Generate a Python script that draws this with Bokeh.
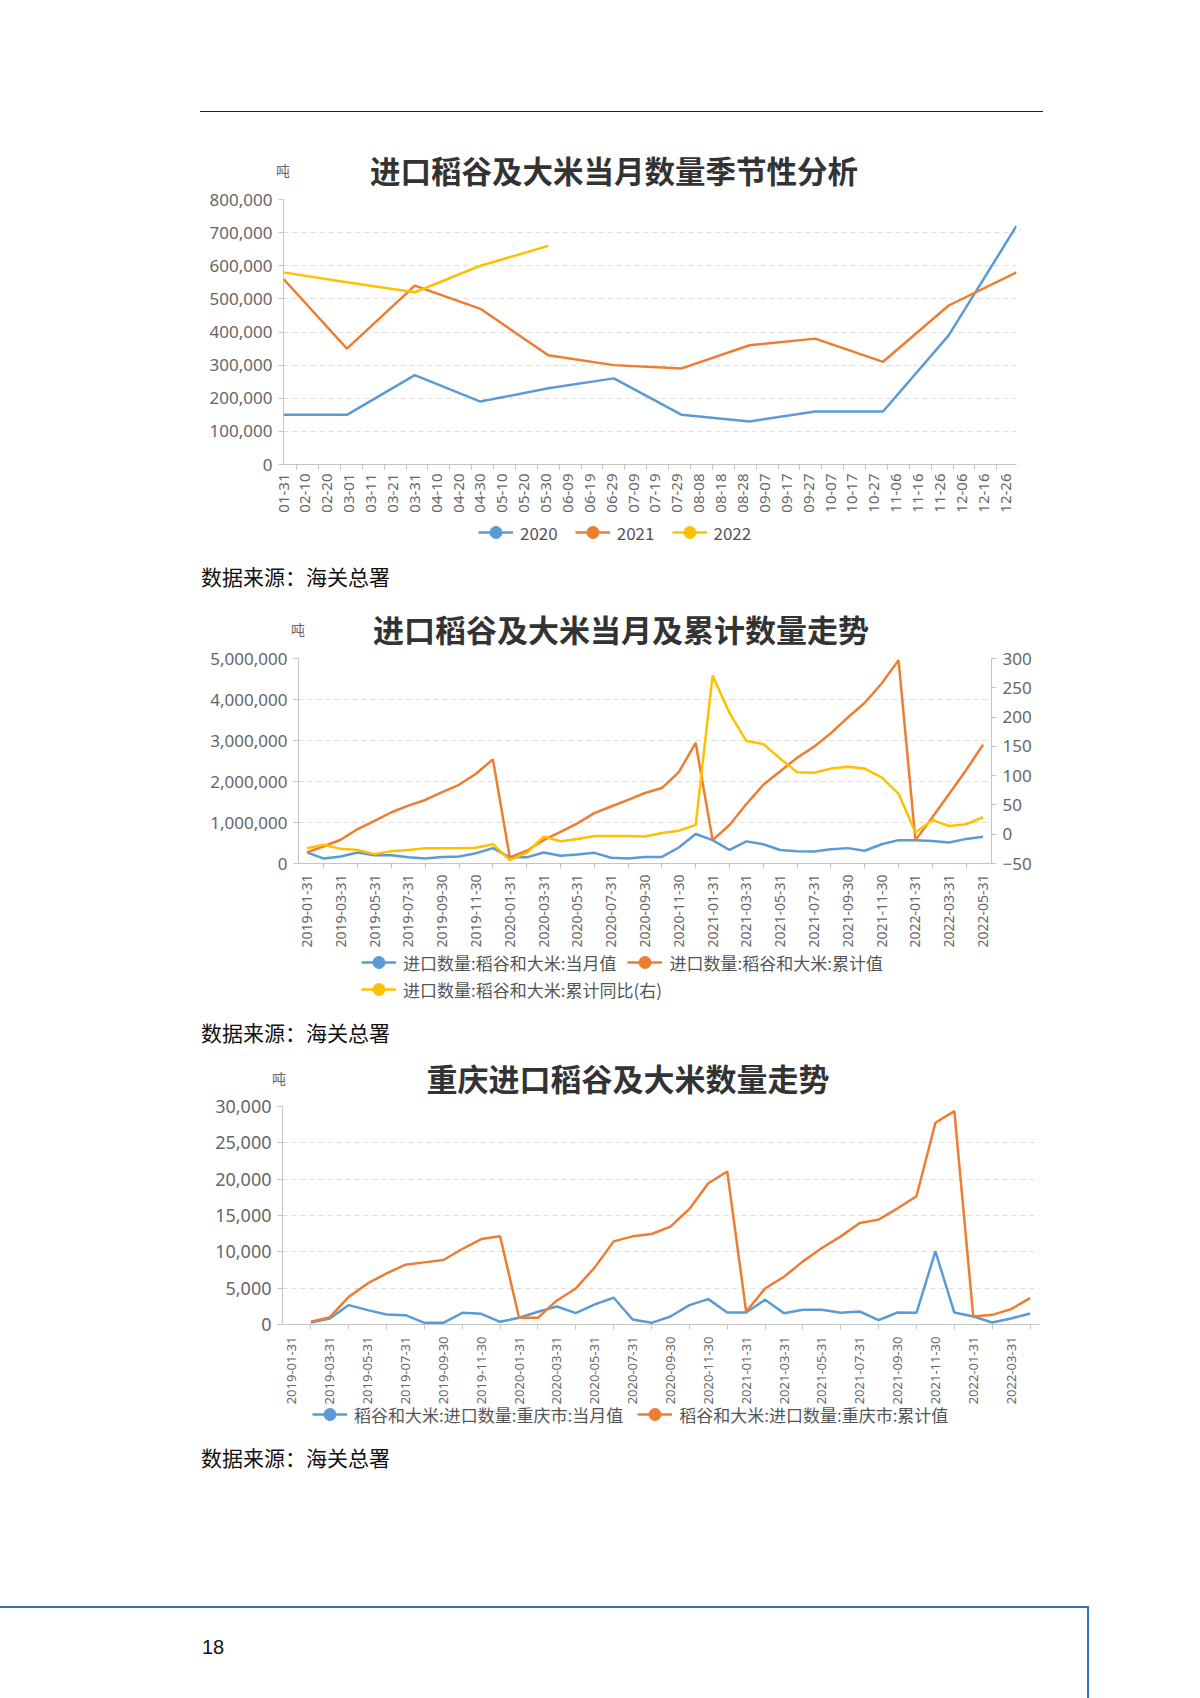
import math
import pandas as pd
from bokeh.plotting import figure
from bokeh.models import (Range1d, LinearAxis, FixedTicker, NumeralTickFormatter,
                          DatetimeTickFormatter, Legend, LegendItem, Div)
from bokeh.embed import file_html
from bokeh.resources import INLINE

NaN = float("nan")

# ---------------- data: chart 1 (seasonal) ----------------
season_dates = ["2020-01-31", "2020-02-29", "2020-03-31", "2020-04-30", "2020-05-31", "2020-06-30",
                "2020-07-31", "2020-08-31", "2020-09-30", "2020-10-31", "2020-11-30", "2020-12-31"]
season_2020 = [150000, 150000, 270000, 190000, 230000, 260000, 150000, 130000, 160000, 160000, 390000, 720000]
season_2021 = [560000, 350000, 540000, 470000, 330000, 300000, 290000, 360000, 380000, 310000, 480000, 580000]
season_2022 = [580000, 550000, 520000, 600000, 660000]
season_ticks = ["01-31", "02-10", "02-20", "03-01", "03-11", "03-21", "03-31", "04-10", "04-20", "04-30",
                "05-10", "05-20", "05-30", "06-09", "06-19", "06-29", "07-09", "07-19", "07-29", "08-08",
                "08-18", "08-28", "09-07", "09-17", "09-27", "10-07", "10-17", "10-27", "11-06", "11-16",
                "11-26", "12-06", "12-16", "12-26"]
season_years = ["2020", "2021", "2022"]

# ---------------- data: chart 2 (national monthly / cumulative) ----------------
months = ["2019-01-31", "2019-02-28", "2019-03-31", "2019-04-30", "2019-05-31", "2019-06-30",
          "2019-07-31", "2019-08-31", "2019-09-30", "2019-10-31", "2019-11-30", "2019-12-31",
          "2020-01-31", "2020-02-29", "2020-03-31", "2020-04-30", "2020-05-31", "2020-06-30",
          "2020-07-31", "2020-08-31", "2020-09-30", "2020-10-31", "2020-11-30", "2020-12-31",
          "2021-01-31", "2021-02-28", "2021-03-31", "2021-04-30", "2021-05-31", "2021-06-30",
          "2021-07-31", "2021-08-31", "2021-09-30", "2021-10-31", "2021-11-30", "2021-12-31",
          "2022-01-31", "2022-02-28", "2022-03-31", "2022-04-30", "2022-05-31"]
nat_month = [270000, 120000, 170000, 270000, 200000, 200000, 150000, 120000, 160000, 170000, 250000, 375000,
             150000, 150000, 270000, 190000, 220000, 260000, 140000, 120000, 160000, 160000, 390000, 720000,
             570000, 330000, 540000, 470000, 330000, 300000, 290000, 350000, 375000, 310000, 470000, 570000,
             570000, 550000, 510000, 600000, 650000]
nat_cum = [270000, 420000, 580000, 840000, 1040000, 1250000, 1410000, 1550000, 1740000, 1920000, 2190000, 2540000,
           150000, 310000, 570000, 770000, 980000, 1230000, 1390000, 1550000, 1720000, 1840000, 2230000, 2940000,
           570000, 940000, 1450000, 1920000, 2250000, 2580000, 2850000, 3180000, 3560000, 3920000, 4390000, 4960000,
           570000, 1130000, 1700000, 2280000, 2900000]
nat_yoy = [-24, -18, -25, -27, -34, -29, -27, -24, -24, -24, -23, -17,
           -44, -32, -4, -12, -8, -3, -3, -3, -4, 2, 6, 16,
           271, 207, 159, 154, 129, 106, 105, 112, 115, 112, 97, 69,
           3, 24, 14, 17, 29]
nat_labels = ["进口数量:稻谷和大米:当月值", "进口数量:稻谷和大米:累计值", "进口数量:稻谷和大米:累计同比(右)"]

# ---------------- data: chart 3 (Chongqing) ----------------
cq_months = months[:40]
cq_month = [NaN, 280, 830, 2670, 1980, 1380, 1290, 230, 230, 1610, 1470, 370,
            920, 1750, 2480, 1560, 2760, 3680, 690, 230, 1100, 2670, 3490, 1650,
            1650, 3400, 1560, 2020, 2020, 1610, 1790, 600, 1650, 1610, 10060, 1650,
            1100, 280, 830, 1520]
cq_cum = [NaN, 370, 1010, 3800, 5650, 7030, 8230, 8550, 8870, 10390, 11760, 12130,
          930, 930, 3310, 4960, 7860, 11440, 12130, 12450, 13460, 15900, 19440, 21050,
          1750, 4960, 6570, 8690, 10520, 12130, 13970, 14430, 15990, 17650, 27760, 29370,
          1100, 1330, 2110, 3630]
cq_labels = ["稻谷和大米:进口数量:重庆市:当月值", "稻谷和大米:进口数量:重庆市:累计值"]

titles = ["进口稻谷及大米当月数量季节性分析", "进口稻谷及大米当月及累计数量走势", "重庆进口稻谷及大米数量走势"]
unit = "吨"
source_text = "数据来源：海关总署"
page_no = "18"

# ---------------- style ----------------
BLUE = "#5b9bd5"
ORANGE = "#ed7d31"
YELLOW = "#ffc000"
CJK = "Noto Sans CJK SC"
NUM = "Noto Sans"
GRID = "#dedede"
AXIS = "#c4c4c4"
TXT = "#666666"


def base_fig(height, left, right, top, bottom, **kw):
    p = figure(width=1200, height=height, min_border_left=left, min_border_right=right,
               min_border_top=top, min_border_bottom=bottom, output_backend="svg",
               toolbar_location=None, tools="", background_fill_color="white",
               border_fill_color="white", outline_line_color=None, margin=(0, 0, 0, 0), **kw)
    p.xgrid.visible = False
    p.ygrid.grid_line_color = GRID
    p.ygrid.grid_line_dash = "5 4"
    p.ygrid.grid_line_width = 1
    return p


def style_y(ax, size="17px"):
    ax.axis_line_color = AXIS
    ax.major_tick_line_color = AXIS
    ax.major_tick_out = 5
    ax.major_tick_in = 0
    ax.minor_tick_line_color = None
    ax.major_label_text_color = TXT
    ax.major_label_text_font = NUM
    ax.major_label_text_font_size = size
    ax.major_label_standoff = 6


def style_x(ax, size="14px", standoff=4):
    ax.axis_line_color = AXIS
    ax.major_tick_out = 0
    ax.major_tick_in = 0
    ax.major_tick_line_color = None
    ax.minor_tick_out = 5
    ax.minor_tick_in = 0
    ax.minor_tick_line_color = AXIS
    ax.major_label_orientation = math.pi / 2
    ax.major_label_text_color = TXT
    ax.major_label_text_font = NUM
    ax.major_label_text_font_size = size
    ax.major_label_standoff = standoff


def legend_strip(height, overlap, rows):
    """A transparent figure with no axes whose frame is the whole strip; it only holds legends.
    It is pulled up by `overlap` px over the chart above it.
    rows: list of (labels, colors, glyph_left, box_bottom_from_strip_bottom, spacing)."""
    f = figure(width=1200, height=height, min_border=0, output_backend="svg", toolbar_location=None,
               tools="", x_range=Range1d(0, 1200), y_range=Range1d(0, height),
               x_axis_location=None, y_axis_location=None, outline_line_color=None,
               background_fill_color=None, border_fill_color=None, margin=(-overlap, 0, 0, 0))
    f.grid.visible = False
    for labels, colors, gx, gy, spacing in rows:
        items = []
        for lab, col in zip(labels, colors):
            # legend-only renderers: one point far outside the strip's visible range
            r1 = f.line([-1000, -999], [-1000, -1000], line_color=col, line_width=2.5)
            r2 = f.scatter([-1000], [-1000], size=12, fill_color=col, line_color=col)
            items.append(LegendItem(label=lab, renderers=[r1, r2]))
        f.add_layout(Legend(items=items, location=(gx, gy), orientation="horizontal", glyph_width=35,
                            glyph_height=30, label_height=30, label_standoff=7, spacing=spacing,
                            padding=0, margin=0, border_line_color=None, background_fill_alpha=0,
                            label_text_font=CJK, label_text_font_size="17px",
                            label_text_color="#555555"))
    return f


# ---------------- chart 1 ----------------
ms = lambda s: int(pd.Timestamp(s).value // 10**6)
tick_ms = [ms("2020-" + t) for t in season_ticks]
minor_ms = [v + 6 * 86400000 for v in tick_ms]
sx = pd.to_datetime(season_dates)

p1 = base_fig(327, 283, 184, 11, 51, x_axis_type="datetime",
              x_range=Range1d(pd.Timestamp("2020-01-31"), pd.Timestamp("2020-12-31")),
              y_range=Range1d(0, 800000))
c1 = [BLUE, ORANGE, YELLOW]
vals1 = [season_2020, season_2021, season_2022]
for vals, col in zip(vals1, c1):
    p1.line(sx[:len(vals)], vals, line_color=col, line_width=2.5)
p1.xaxis.ticker = FixedTicker(ticks=tick_ms, minor_ticks=minor_ms)
fmt = "%m-%d"
p1.xaxis.formatter = DatetimeTickFormatter(milliseconds=fmt, seconds=fmt, minsec=fmt, minutes=fmt,
                                           hourmin=fmt, hours=fmt, days=fmt, months=fmt, years=fmt)
p1.yaxis.ticker = FixedTicker(ticks=list(range(0, 800001, 100000)))
p1.yaxis.formatter = NumeralTickFormatter(format="0,0")
style_x(p1.xaxis[0], "15px", 4)
style_y(p1.yaxis[0], "17px")
leg1 = legend_strip(40, 0, [(season_years, c1, 478, 8, 17)])

# ---------------- chart 2 ----------------
n2 = len(months)
x2 = list(range(n2))
p2 = base_fig(310, 298, 209, 13, 92, x_range=Range1d(-0.5, n2 - 0.5), y_range=Range1d(0, 5000000))
p2.extra_y_ranges = {"right": Range1d(-50, 300)}
ra = LinearAxis(y_range_name="right")
p2.add_layout(ra, "right")
p2.line(x2, nat_month, line_color=BLUE, line_width=2.5)
p2.line(x2, nat_cum, line_color=ORANGE, line_width=2.5)
p2.line(x2, nat_yoy, line_color=YELLOW, line_width=2.5, y_range_name="right")
p2.xaxis.ticker = FixedTicker(ticks=x2[::2], minor_ticks=x2[1::2])
p2.xaxis.major_label_overrides = {i: months[i] for i in x2[::2]}
style_x(p2.xaxis[0], "14px", 6)
p2.yaxis[0].ticker = FixedTicker(ticks=list(range(0, 5000001, 1000000)))
p2.yaxis[0].formatter = NumeralTickFormatter(format="0,0")
style_y(p2.yaxis[0], "17px")
ra.ticker = FixedTicker(ticks=list(range(-50, 301, 50)))
style_y(ra, "17px")
leg2 = legend_strip(75, 20, [(nat_labels[:2], [BLUE, ORANGE], 361, 33, 11),
                             (nat_labels[2:], [YELLOW], 361, 6, 11)])

# ---------------- chart 3 ----------------
n3 = len(cq_months)
x3 = list(range(n3))
p3 = base_fig(315, 282, 161, 11, 86, x_range=Range1d(-0.5, n3 - 0.5), y_range=Range1d(0, 30000))
p3.line(x3, cq_month, line_color=BLUE, line_width=2.5)
p3.line(x3, cq_cum, line_color=ORANGE, line_width=2.5)
p3.xaxis.ticker = FixedTicker(ticks=x3[::2], minor_ticks=x3[1::2])
p3.xaxis.major_label_overrides = {i: cq_months[i] for i in x3[::2]}
style_x(p3.xaxis[0], "13px", 7)
p3.yaxis.ticker = FixedTicker(ticks=list(range(0, 30001, 5000)))
p3.yaxis.formatter = NumeralTickFormatter(format="0,0")
style_y(p3.yaxis[0], "18px")
leg3 = legend_strip(50, 20, [(cq_labels, [BLUE, ORANGE], 312, 11, 14)])


# ---------------- page texts (HTML blocks between the charts) ----------------
def box_div(height, inner):
    html = ('<div style="position:relative;width:1200px;height:%dpx;overflow:visible;">%s</div>'
            % (height, inner))
    return Div(text=html, width=1200, height=height, margin=(0, 0, 0, 0))


def source_html(top):
    return ('<div style="position:absolute;left:201px;top:%dpx;font-family:\'%s\';font-size:21px;'
            'line-height:26px;color:#111;white-space:nowrap;">%s</div>' % (top, CJK, source_text))


def title_html(text, cx, cy, ux, uy, size):
    return ('<div style="position:absolute;left:%dpx;top:%dpx;width:700px;text-align:center;'
            'font-family:\'%s\';font-weight:bold;font-size:%spx;line-height:40px;color:#333;'
            'white-space:nowrap;">%s</div>'
            '<div style="position:absolute;left:%dpx;top:%dpx;width:30px;text-align:center;'
            'font-family:\'%s\';font-size:14px;line-height:20px;color:#666;">%s</div>'
            % (cx - 350, cy - 20, CJK, size, text, ux - 15, uy - 10, CJK, unit))


header = box_div(188, '<div style="position:absolute;left:200px;top:111px;width:843px;height:0;'
                      'border-top:1px solid #222;"></div>'
                 + title_html(titles[0], 614, 170, 283, 170, 30.5))
mid1 = box_div(90, source_html(8) + title_html(titles[1], 621, 74, 298, 74, 31))
mid2 = box_div(85, source_html(9) + title_html(titles[2], 628, 68, 279, 68, 31))
mid3 = box_div(40, source_html(4))
footer = box_div(218,
                 '<div style="position:absolute;left:0px;top:126px;width:1089px;height:0;'
                 'border-top:2px solid #2e75b6;"></div>'
                 '<div style="position:absolute;left:1087px;top:126px;width:0;height:92px;'
                 'border-left:2px solid #2e75b6;"></div>'
                 '<div style="position:absolute;left:202px;top:155px;font-family:\'Liberation Sans Narrow\','
                 '\'Liberation Sans\';font-size:20px;line-height:24px;color:#111;">%s</div>' % page_no)

# separate roots stacked top to bottom (keeps each chart's own plot frame)
p = [header, p1, leg1, mid1, p2, leg2, mid2, p3, leg3, mid3, footer]

open("out.html", "w").write(file_html(p, INLINE))
